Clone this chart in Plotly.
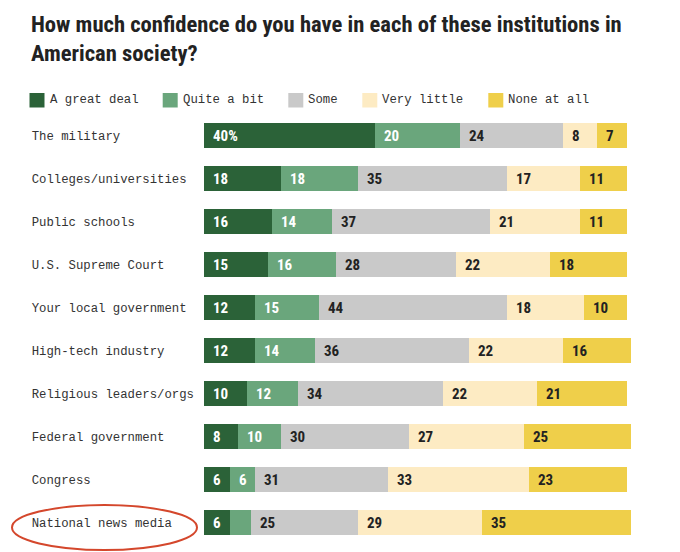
import plotly.graph_objects as go

categories = [
    "The military",
    "Colleges/universities",
    "Public schools",
    "U.S. Supreme Court",
    "Your local government",
    "High-tech industry",
    "Religious leaders/orgs",
    "Federal government",
    "Congress",
    "National news media",
]

series_names = ["A great deal", "Quite a bit", "Some", "Very little", "None at all"]

great_deal = [40, 18, 16, 15, 12, 12, 10, 8, 6, 6]
quite_a_bit = [20, 18, 14, 16, 15, 14, 12, 10, 6, 5]
some = [24, 35, 37, 28, 44, 36, 34, 30, 31, 25]
very_little = [8, 17, 21, 22, 18, 22, 22, 27, 33, 29]
none_at_all = [7, 11, 11, 18, 10, 16, 21, 25, 23, 35]

series_values = [great_deal, quite_a_bit, some, very_little, none_at_all]

title_text = "How much confidence do you have in each of these institutions in<br>American society?"

colors = ["#2b6238", "#6aa67c", "#c9c9c9", "#fdebc3", "#efcf4a"]
label_colors = ["#ffffff", "#ffffff", "#222222", "#222222", "#222222"]

COND = "Roboto Condensed, Open Sans Condensed, Roboto, sans-serif"
MONO = "Liberation Mono, DejaVu Sans Mono, monospace"

# the page body has an 8px margin, so the figure is drawn 8px in from the corner
OFF = 8
W, H = 680 - OFF, 552 - OFF
ML, MR, MT, MB = 196, 49, 106, 8
PW = W - ML - MR
PH = H - MT - MB


def px_x(p):
    return (p - OFF - ML) / PW


def px_y(p):
    return (H - MB - (p - OFF)) / PH


width_chars = max(len(c) for c in categories)
tick_text = [c + "\u00a0" * (width_chars - len(c)) for c in categories]

fig = go.Figure()
for name, vals, col in zip(series_names, series_values, colors):
    fig.add_trace(go.Bar(
        name=name, y=categories, x=vals, orientation="h",
        marker=dict(color=col, line=dict(width=0)),
        hoverinfo="skip", showlegend=False,
    ))

annotations = []
cum = [0] * len(categories)
for si, vals in enumerate(series_values):
    for ci, v in enumerate(vals):
        if v >= 6:
            txt = f"{v}%" if (si == 0 and ci == 0) else f"{v}"
            annotations.append(dict(
                x=cum[ci], y=categories[ci], xref="x", yref="y",
                text=txt, showarrow=False, xanchor="left", yanchor="middle",
                xshift=7, yshift=0,
                font=dict(family=COND, size=15, color=label_colors[si], weight="bold"),
            ))
        cum[ci] += v

# title
annotations.append(dict(
    x=px_x(29), y=px_y(9.5), xref="paper", yref="paper",
    xanchor="left", yanchor="top", align="left", showarrow=False,
    text=title_text,
    font=dict(family=COND, size=22.6, color="#222222", weight="bold"),
))

# legend (squares + labels)
legend_left = [29.5, 162.7, 288.3, 362.3, 488.3]
legend_top, legend_bot = 93, 107.5
shapes = []
for name, col, lx in zip(series_names, colors, legend_left):
    shapes.append(dict(
        type="rect", xref="paper", yref="paper",
        x0=px_x(lx), x1=px_x(lx + 15), y0=px_y(legend_bot), y1=px_y(legend_top),
        fillcolor=col, line=dict(width=0),
    ))
    annotations.append(dict(
        x=px_x(lx + 18), y=px_y((legend_top + legend_bot) / 2), xref="paper", yref="paper",
        xanchor="left", yanchor="middle", showarrow=False, text=name,
        font=dict(family=MONO, size=12.3, color="#333333"),
    ))

# hand-drawn red ellipse around the last category
shapes.append(dict(
    type="circle", xref="paper", yref="paper",
    x0=px_x(12), x1=px_x(197), y0=px_y(550), y1=px_y(505),
    line=dict(color="#d4472c", width=2),
))

fig.update_layout(
    width=W, height=H,
    margin=dict(l=ML, r=MR, t=MT, b=MB, autoexpand=False),
    barmode="stack", bargap=0.4,
    paper_bgcolor="white", plot_bgcolor="white",
    showlegend=False,
    xaxis=dict(range=[0, 100], visible=False, fixedrange=True),
    yaxis=dict(
        autorange=False, range=[len(categories) - 0.5, -0.5],
        tickmode="array", tickvals=categories, ticktext=tick_text,
        showgrid=False, zeroline=False, showline=False, ticks="",
        ticklabelstandoff=9,
        tickfont=dict(family=MONO, size=12.3, color="#333333"),
        fixedrange=True,
    ),
    annotations=annotations,
    shapes=shapes,
)

fig.write_html("out.html", config={"displayModeBar": False})
